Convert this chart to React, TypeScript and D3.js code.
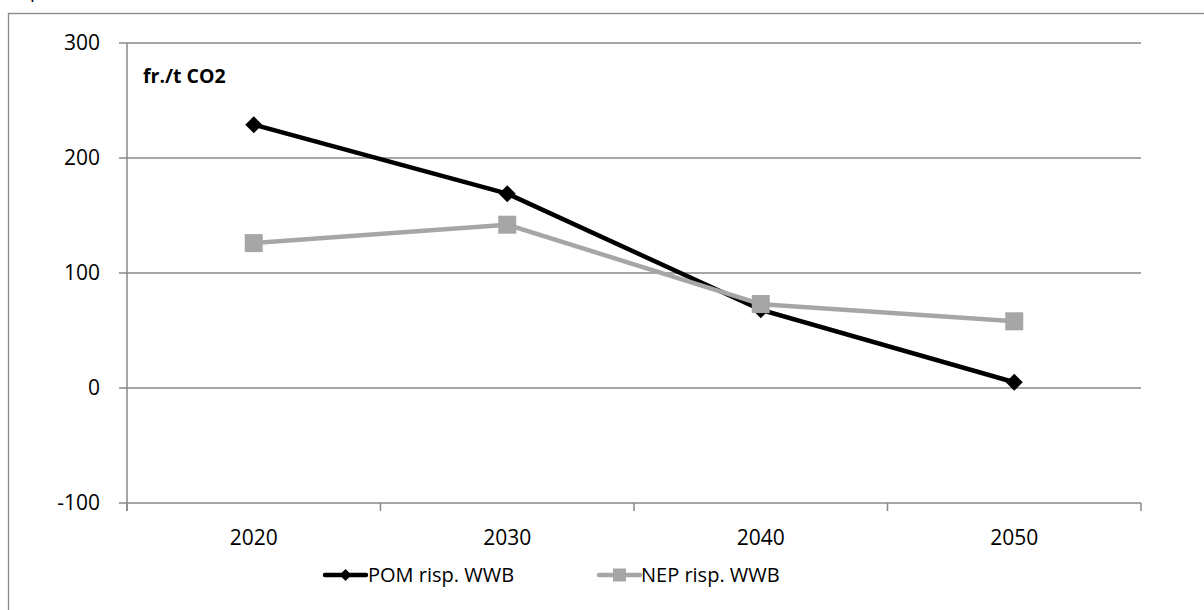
import React from "react";
import * as d3 from "d3";

const years = ["2020", "2030", "2040", "2050"];
const pomValues = [229, 169, 68, 5];
const nepValues = [126, 142, 73, 58];
const yTicks = [-100, 0, 100, 200, 300];
const unitLabel = "fr./t CO2";
const seriesNames = ["POM risp. WWB", "NEP risp. WWB"];

const WIDTH = 1204;
const HEIGHT = 610;
const PLOT = { left: 127, right: 1141, top: 43, bottom: 503 };
const FONT = "'Open Sans', 'Noto Sans', sans-serif";
const GRID = "#888888";
const BLACK = "#000000";
const GREY = "#a6a6a6";

const diamond = (cx: number, cy: number, r: number) =>
  `M${cx},${cy - r}L${cx + r},${cy}L${cx},${cy + r}L${cx - r},${cy}Z`;

const App = () => {
  const x = d3
    .scaleBand<string>()
    .domain(years)
    .range([PLOT.left, PLOT.right])
    .padding(0);
  const y = d3.scaleLinear().domain([-100, 300]).range([PLOT.bottom, PLOT.top]);

  const cx = (year: string) => (x(year) ?? 0) + x.bandwidth() / 2;

  const line = d3
    .line<number>()
    .x((_, i) => cx(years[i]))
    .y((d) => y(d));

  // band edges for the category tick marks
  const edges = years.map((yr) => x(yr) ?? 0).concat([PLOT.right]);

  return (
    <svg
      width={WIDTH}
      height={HEIGHT}
      style={{ position: "absolute", left: 0, top: 0, background: "#fff" }}
      fontFamily={FONT}
    >
      {/* outer chart frame, runs past the picture edge */}
      <rect x={8.5} y={13.5} width={1220} height={620} fill="none" stroke={GRID} strokeWidth={1.3} />
      <text x={30} y={-2} fontSize={19} fill="#000">p</text>

      {/* horizontal gridlines */}
      {yTicks.map((t) => (
        <line
          key={`g${t}`}
          x1={PLOT.left - 8}
          x2={PLOT.right}
          y1={y(t)}
          y2={y(t)}
          stroke={GRID}
          strokeWidth={1.5}
        />
      ))}
      <line x1={PLOT.left} x2={PLOT.left} y1={PLOT.top} y2={PLOT.bottom + 8} stroke={GRID} strokeWidth={1.5} />
      {edges.map((e, i) => (
        <line key={`t${i}`} x1={e} x2={e} y1={PLOT.bottom} y2={PLOT.bottom + 8} stroke={GRID} strokeWidth={1.5} />
      ))}

      {/* y labels */}
      {yTicks.map((t) => (
        <text
          key={`yl${t}`}
          x={100}
          y={y(t)}
          dy="0.35em"
          textAnchor="end"
          fontSize={21}
          fill="#000"
        >
          {t}
        </text>
      ))}

      {/* x labels */}
      {years.map((yr) => (
        <text key={`xl${yr}`} x={cx(yr)} y={545} textAnchor="middle" fontSize={21} fill="#000">
          {yr}
        </text>
      ))}

      <text x={143} y={83} fontSize={19.5} fontWeight="bold" fill="#000">
        {unitLabel}
      </text>

      {/* POM series */}
      <path d={line(pomValues) ?? ""} fill="none" stroke={BLACK} strokeWidth={4.5} strokeLinejoin="round" />
      {pomValues.map((v, i) => (
        <path key={`pm${i}`} d={diamond(cx(years[i]), y(v), 8.5)} fill={BLACK} />
      ))}

      {/* NEP series */}
      <path d={line(nepValues) ?? ""} fill="none" stroke={GREY} strokeWidth={4.5} strokeLinejoin="round" />
      {nepValues.map((v, i) => (
        <rect key={`nm${i}`} x={cx(years[i]) - 9} y={y(v) - 9} width={18} height={18} fill={GREY} />
      ))}

      {/* legend */}
      <g transform="translate(0,575)">
        <line x1={325} x2={366} y1={0} y2={0} stroke={BLACK} strokeWidth={4.5} strokeLinecap="round" />
        <path d={diamond(345.5, 0, 6)} fill={BLACK} />
        <text x={368} y={0} dy="0.35em" fontSize={20} fill="#000">{seriesNames[0]}</text>
        <line x1={599} x2={640} y1={0} y2={0} stroke={GREY} strokeWidth={4.5} strokeLinecap="round" />
        <rect x={613} y={-6.5} width={13} height={13} fill={GREY} />
        <text x={641} y={0} dy="0.35em" fontSize={20} fill="#000">{seriesNames[1]}</text>
      </g>
    </svg>
  );
};

export default App;
